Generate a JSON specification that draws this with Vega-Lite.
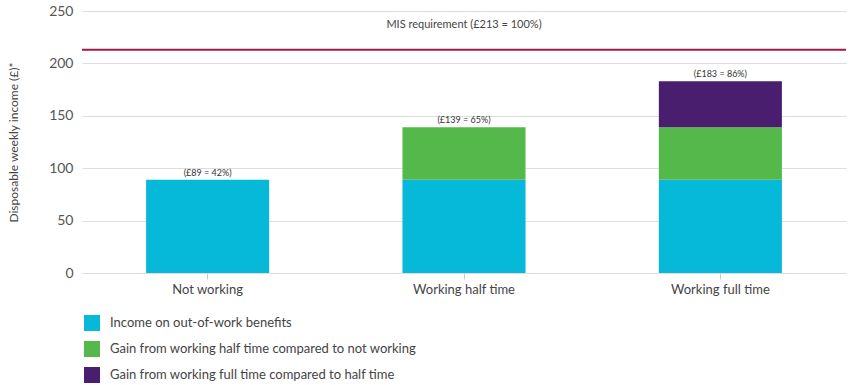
{
  "$schema": "https://vega.github.io/schema/vega-lite/v6.json",
  "autosize": "none",
  "width": 764,
  "height": 262,
  "padding": {"left": 82, "top": 11, "right": 4, "bottom": 112},
  "background": "white",
  "config": {
    "font": "Lato",
    "view": {"stroke": null}
  },
  "datasets": {
    "bars": [
      {"category": "Not working", "component": "Income on out-of-work benefits", "value": 89},
      {"category": "Working half time", "component": "Income on out-of-work benefits", "value": 89},
      {"category": "Working half time", "component": "Gain from working half time compared to not working", "value": 50},
      {"category": "Working full time", "component": "Income on out-of-work benefits", "value": 89},
      {"category": "Working full time", "component": "Gain from working half time compared to not working", "value": 50},
      {"category": "Working full time", "component": "Gain from working full time compared to half time", "value": 44}
    ],
    "totals": [
      {"category": "Not working", "total": 89, "label": "(£89 = 42%)"},
      {"category": "Working half time", "total": 139, "label": "(£139 = 65%)"},
      {"category": "Working full time", "total": 183, "label": "(£183 = 86%)"}
    ],
    "mis": [
      {"category": "Working half time", "value": 213, "label": "MIS requirement (£213 = 100%)"}
    ]
  },
  "layer": [
    {
      "data": {"name": "bars"},
      "mark": {"type": "bar"},
      "encoding": {
        "x": {
          "field": "category", "type": "nominal",
          "sort": ["Not working", "Working half time", "Working full time"],
          "scale": {"paddingInner": 0.52, "paddingOuter": 0.25},
          "axis": {
            "title": null, "labelAngle": 0, "labelFontSize": 13, "labelColor": "#444444",
            "labelPadding": 4, "tickSize": 6, "tickColor": "#cccccc", "domain": false
          }
        },
        "y": {
          "field": "value", "type": "quantitative", "stack": "zero",
          "scale": {"domain": [0, 250], "nice": false},
          "axis": {
            "title": "Disposable weekly income (£)*", "titleFontSize": 12, "titleFontWeight": "normal",
            "titleColor": "#444444", "titlePadding": 28,
            "values": [0, 50, 100, 150, 200, 250],
            "labelFontSize": 14, "labelColor": "#555555", "labelPadding": 9,
            "ticks": false, "domain": false, "gridColor": "#dddddd"
          }
        },
        "color": {
          "field": "component", "type": "nominal",
          "scale": {
            "domain": ["Income on out-of-work benefits", "Gain from working half time compared to not working", "Gain from working full time compared to half time"],
            "range": ["#06B9D8", "#55B84A", "#4A1E6E"]
          },
          "legend": {
            "title": null, "orient": "none", "legendX": 2, "legendY": 304,
            "symbolType": "square", "symbolSize": 256, "symbolStrokeWidth": 0,
            "labelFontSize": 13, "labelColor": "#444444", "labelOffset": 10, "rowPadding": 10,
            "labelLimit": 500
          }
        }
      }
    },
    {
      "data": {"name": "mis"},
      "mark": {"type": "rule", "color": "#A2174A", "strokeWidth": 2},
      "encoding": {
        "y": {"field": "value", "type": "quantitative"}
      }
    },
    {
      "data": {"name": "mis"},
      "mark": {"type": "text", "fontSize": 11, "color": "#444444", "dy": -25},
      "encoding": {
        "x": {"field": "category", "type": "nominal", "sort": ["Not working", "Working half time", "Working full time"]},
        "y": {"field": "value", "type": "quantitative"},
        "text": {"field": "label"}
      }
    },
    {
      "data": {"name": "totals"},
      "mark": {"type": "text", "fontSize": 9, "color": "#333333", "dy": -7},
      "encoding": {
        "x": {"field": "category", "type": "nominal", "sort": ["Not working", "Working half time", "Working full time"]},
        "y": {"field": "total", "type": "quantitative"},
        "text": {"field": "label"}
      }
    }
  ]
}
